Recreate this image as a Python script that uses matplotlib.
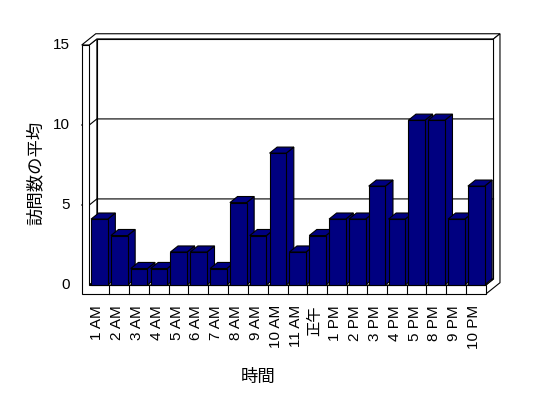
import matplotlib
matplotlib.use('Agg')
import matplotlib.pyplot as plt
from matplotlib.patches import Polygon

plt.rcParams['font.family'] = ['Liberation Sans', 'Noto Sans CJK JP']

# 時間帯ごとの訪問数の平均
hours = ['1 AM', '2 AM', '3 AM', '4 AM', '5 AM', '6 AM', '7 AM', '8 AM', '9 AM',
         '10 AM', '11 AM', '正午', '1 PM', '2 PM', '3 PM', '4 PM', '5 PM', '8 PM',
         '9 PM', '10 PM']
visits = [4.12, 3.09, 1.03, 1.03, 2.06, 2.06, 1.03, 5.15, 3.09, 8.24, 2.06,
          3.09, 4.12, 4.12, 6.18, 4.12, 10.3, 10.3, 4.12, 6.18]
yticks = [0, 5, 10, 15]
xlabel = '時間'
ylabel = '訪問数の平均'

# 3D風の奥行き (カテゴリ単位 / 値単位)
DX = 0.383
DY = 0.38
WALL = 0.383   # 左の壁の厚さ
FLOOR = 0.56   # 床の厚さ
BACK = 0.85    # 奥の壁の厚さ
BAR_L = 0.09
BAR_W = 0.84
BAR_D = 1.0
YMAX = yticks[-1]
NAVY = '#000080'
LW = 0.8


def p(x, v, z=0.0):
    return (x + z * DX, v + z * DY)


def face(ax, pts, fc='white', zo=1):
    ax.add_patch(Polygon(pts, closed=True, facecolor=fc, edgecolor='black',
                         linewidth=LW, joinstyle='miter', zorder=zo))


fig = plt.figure(figsize=(5.48, 3.98), dpi=100)
ax = fig.add_axes([0, 0, 1, 1])
ax.set_xlim(-4.503, 23.13)
ax.set_ylim(-7.0625, 17.8125)
ax.axis('off')

n = len(hours)

# 奥の壁
face(ax, [p(0, 0, 1), p(n, 0, 1), p(n, YMAX, 1), p(0, YMAX, 1)])
# 左の壁の内側
face(ax, [p(0, 0, 0), p(0, 0, 1), p(0, YMAX, 1), p(0, YMAX, 0)])
# 壁の上面
face(ax, [p(-WALL, YMAX, 0), p(0, YMAX, 0), p(0, YMAX, 1), p(n, YMAX, 1),
          p(n, YMAX, 1 + BACK), p(-WALL, YMAX, 1 + BACK)])
# 右側面
face(ax, [p(n, -FLOOR, 0), p(n, 0, 0), p(n, 0, 1), p(n, YMAX, 1),
          p(n, YMAX, 1 + BACK), p(n, -FLOOR, 1 + BACK)])
# 床の上面
face(ax, [p(0, 0, 0), p(n, 0, 0), p(n, 0, 1), p(0, 0, 1)], zo=2)
# 左の壁と床の前面
face(ax, [p(-WALL, -FLOOR, 0), p(n, -FLOOR, 0), p(n, 0, 0), p(0, 0, 0),
          p(0, YMAX, 0), p(-WALL, YMAX, 0)], zo=2)

# 目盛り線
for v in yticks[1:-1]:
    xs, ys = zip(p(-WALL, v, 0), p(0, v, 0), p(0, v, 1), p(n, v, 1))
    ax.plot(xs, ys, color='black', linewidth=LW, zorder=1.5)
for v in yticks:
    ax.text(-WALL - 0.6, v, str(v), ha='right', va='center', fontsize=11)

for i in range(1, n):
    ax.plot([i, i], [-FLOOR, 0], color='black', linewidth=LW, zorder=2.5)

# 棒
for i, v in enumerate(visits):
    x0 = i + BAR_L
    x1 = x0 + BAR_W
    face(ax, [p(x1, 0, 0), p(x1, 0, BAR_D), p(x1, v, BAR_D), p(x1, v, 0)], NAVY, 3)
    face(ax, [p(x0, v, 0), p(x1, v, 0), p(x1, v, BAR_D), p(x0, v, BAR_D)], NAVY, 3)
    face(ax, [p(x0, 0, 0), p(x1, 0, 0), p(x1, v, 0), p(x0, v, 0)], NAVY, 3)

for i, lab in enumerate(hours):
    ax.text(i + 0.4, -1.25, lab, rotation=90, ha='center', va='top', fontsize=11)

ax.text(8.5, -5.75, xlabel, ha='center', va='center', fontsize=12.5)
ax.text(-2.74, 7.0, ylabel, rotation=90, ha='center', va='center', fontsize=12.5)

fig.savefig('out.png', dpi=100)
